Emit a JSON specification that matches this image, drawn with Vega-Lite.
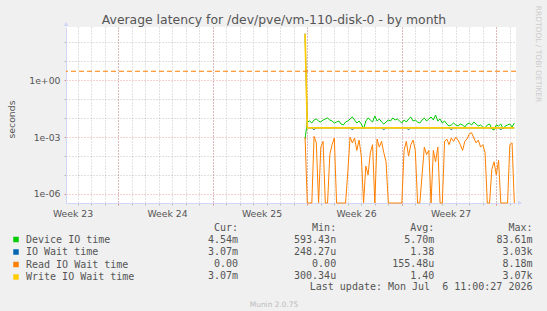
{
  "$schema": "https://vega.github.io/schema/vega-lite/v6.json",
  "width": 450,
  "height": 176,
  "autosize": {"type": "none"},
  "padding": {"left": 66, "top": 27, "right": 31, "bottom": 108},
  "background": "#F0F0F0",
  "config": {
    "view": {"fill": "#FFFFFF", "stroke": null},
    "font": "DejaVu Sans",
    "axis": {"labelFont": "DejaVu Sans", "labelFontSize": 9.3, "labelColor": "#555555", "titleFont": "DejaVu Sans", "titleFontWeight": "normal", "titleColor": "#555555", "titleFontSize": 9.3}
  },
  "layer": [
    {
      "data": {"values": [
        {"t": "2026-06-21T20:00", "Device IO time": 0.0008, "IO Wait time": 288, "Read IO Wait time": 0.001, "Write IO Wait time": 288},
        {"t": "2026-06-22T00:00", "Device IO time": 0.0063, "IO Wait time": 0.00307, "Read IO Wait time": 0, "Write IO Wait time": 0.00307},
        {"t": "2026-06-22T04:00", "Device IO time": 0.00712, "IO Wait time": 0.00307, "Read IO Wait time": 0, "Write IO Wait time": 0.00307},
        {"t": "2026-06-22T08:00", "Device IO time": 0.00558, "IO Wait time": 0.00307, "Read IO Wait time": 0, "Write IO Wait time": 0.00307},
        {"t": "2026-06-22T12:00", "Device IO time": 0.00804, "IO Wait time": 0.0025, "Read IO Wait time": 0.0011, "Write IO Wait time": 0.00307},
        {"t": "2026-06-22T16:00", "Device IO time": 0.00907, "IO Wait time": 0.00307, "Read IO Wait time": 0.0005, "Write IO Wait time": 0.00307},
        {"t": "2026-06-22T20:00", "Device IO time": 0.00712, "IO Wait time": 0.00307, "Read IO Wait time": 0, "Write IO Wait time": 0.00307},
        {"t": "2026-06-23T00:00", "Device IO time": 0.0063, "IO Wait time": 0.00307, "Read IO Wait time": 0.0003, "Write IO Wait time": 0.00307},
        {"t": "2026-06-23T04:00", "Device IO time": 0.00804, "IO Wait time": 0.00307, "Read IO Wait time": 0.0006, "Write IO Wait time": 0.00307},
        {"t": "2026-06-23T08:00", "Device IO time": 0.00907, "IO Wait time": 0.00307, "Read IO Wait time": 0, "Write IO Wait time": 0.00307},
        {"t": "2026-06-23T12:00", "Device IO time": 0.01025, "IO Wait time": 0.00307, "Read IO Wait time": 0, "Write IO Wait time": 0.00307},
        {"t": "2026-06-23T16:00", "Device IO time": 0.00804, "IO Wait time": 0.00307, "Read IO Wait time": 0.00012, "Write IO Wait time": 0.00307},
        {"t": "2026-06-23T20:00", "Device IO time": 0.00712, "IO Wait time": 0.00307, "Read IO Wait time": 0.0004, "Write IO Wait time": 0.00307},
        {"t": "2026-06-24T00:00", "Device IO time": 0.00558, "IO Wait time": 0.00307, "Read IO Wait time": 0.0009, "Write IO Wait time": 0.00307},
        {"t": "2026-06-24T04:00", "Device IO time": 0.0063, "IO Wait time": 0.00307, "Read IO Wait time": 0, "Write IO Wait time": 0.00307},
        {"t": "2026-06-24T08:00", "Device IO time": 0.00712, "IO Wait time": 0.00307, "Read IO Wait time": 0, "Write IO Wait time": 0.00307},
        {"t": "2026-06-24T12:00", "Device IO time": 0.00494, "IO Wait time": 0.00307, "Read IO Wait time": 0, "Write IO Wait time": 0.00307},
        {"t": "2026-06-24T16:00", "Device IO time": 0.00438, "IO Wait time": 0.00307, "Read IO Wait time": 0, "Write IO Wait time": 0.00307},
        {"t": "2026-06-24T20:00", "Device IO time": 0.0063, "IO Wait time": 0.00307, "Read IO Wait time": 0, "Write IO Wait time": 0.00307},
        {"t": "2026-06-25T00:00", "Device IO time": 0.00712, "IO Wait time": 0.00307, "Read IO Wait time": 0.000015, "Write IO Wait time": 0.00307},
        {"t": "2026-06-25T04:00", "Device IO time": 0.00907, "IO Wait time": 0.00307, "Read IO Wait time": 0.001, "Write IO Wait time": 0.00307},
        {"t": "2026-06-25T08:00", "Device IO time": 0.01157, "IO Wait time": 0.0025, "Read IO Wait time": 0.0005, "Write IO Wait time": 0.00307},
        {"t": "2026-06-25T12:00", "Device IO time": 0.00804, "IO Wait time": 0.00307, "Read IO Wait time": 0.0009, "Write IO Wait time": 0.00307},
        {"t": "2026-06-25T16:00", "Device IO time": 0.00558, "IO Wait time": 0.00307, "Read IO Wait time": 0.0002, "Write IO Wait time": 0.00307},
        {"t": "2026-06-25T20:00", "Device IO time": 0.00712, "IO Wait time": 0.00307, "Read IO Wait time": 0.0007, "Write IO Wait time": 0.00307},
        {"t": "2026-06-26T00:00", "Device IO time": 0.00494, "IO Wait time": 0.00307, "Read IO Wait time": 0.0001, "Write IO Wait time": 0.00307},
        {"t": "2026-06-26T04:00", "Device IO time": 0.00269, "IO Wait time": 0.00307, "Read IO Wait time": 0, "Write IO Wait time": 0.00307},
        {"t": "2026-06-26T08:00", "Device IO time": 0.00712, "IO Wait time": 0.00307, "Read IO Wait time": 0.00003, "Write IO Wait time": 0.00307},
        {"t": "2026-06-26T12:00", "Device IO time": 0.01025, "IO Wait time": 0.00307, "Read IO Wait time": 0.00001, "Write IO Wait time": 0.00307},
        {"t": "2026-06-26T16:00", "Device IO time": 0.00804, "IO Wait time": 0.00307, "Read IO Wait time": 0.00015, "Write IO Wait time": 0.00307},
        {"t": "2026-06-26T20:00", "Device IO time": 0.0063, "IO Wait time": 0.00307, "Read IO Wait time": 0.0004, "Write IO Wait time": 0.00307},
        {"t": "2026-06-27T00:00", "Device IO time": 0.01306, "IO Wait time": 0.00307, "Read IO Wait time": 0, "Write IO Wait time": 0.00307},
        {"t": "2026-06-27T04:00", "Device IO time": 0.00712, "IO Wait time": 0.00307, "Read IO Wait time": 0.0008, "Write IO Wait time": 0.00307},
        {"t": "2026-06-27T08:00", "Device IO time": 0.00907, "IO Wait time": 0.00307, "Read IO Wait time": 0.0003, "Write IO Wait time": 0.00307},
        {"t": "2026-06-27T12:00", "Device IO time": 0.0063, "IO Wait time": 0.00307, "Read IO Wait time": 0.0006, "Write IO Wait time": 0.00307},
        {"t": "2026-06-27T16:00", "Device IO time": 0.00494, "IO Wait time": 0.0025, "Read IO Wait time": 0.00015, "Write IO Wait time": 0.00307},
        {"t": "2026-06-27T20:00", "Device IO time": 0.0063, "IO Wait time": 0.00307, "Read IO Wait time": 0.00005, "Write IO Wait time": 0.00307},
        {"t": "2026-06-28T00:00", "Device IO time": 0.00804, "IO Wait time": 0.00307, "Read IO Wait time": 0, "Write IO Wait time": 0.00307},
        {"t": "2026-06-28T04:00", "Device IO time": 0.00712, "IO Wait time": 0.00307, "Read IO Wait time": 0, "Write IO Wait time": 0.00307},
        {"t": "2026-06-28T08:00", "Device IO time": 0.01025, "IO Wait time": 0.00307, "Read IO Wait time": 0, "Write IO Wait time": 0.00307},
        {"t": "2026-06-28T12:00", "Device IO time": 0.00804, "IO Wait time": 0.00307, "Read IO Wait time": 0, "Write IO Wait time": 0.00307},
        {"t": "2026-06-28T16:00", "Device IO time": 0.00907, "IO Wait time": 0.00307, "Read IO Wait time": 0, "Write IO Wait time": 0.00307},
        {"t": "2026-06-28T20:00", "Device IO time": 0.00712, "IO Wait time": 0.00307, "Read IO Wait time": 0, "Write IO Wait time": 0.00307},
        {"t": "2026-06-29T00:00", "Device IO time": 0.00558, "IO Wait time": 0.00307, "Read IO Wait time": 0, "Write IO Wait time": 0.00307},
        {"t": "2026-06-29T04:00", "Device IO time": 0.00804, "IO Wait time": 0.00307, "Read IO Wait time": 0.0002, "Write IO Wait time": 0.00307},
        {"t": "2026-06-29T08:00", "Device IO time": 0.0063, "IO Wait time": 0.00307, "Read IO Wait time": 0.0006, "Write IO Wait time": 0.00307},
        {"t": "2026-06-29T12:00", "Device IO time": 0.00907, "IO Wait time": 0.0025, "Read IO Wait time": 0.0001, "Write IO Wait time": 0.00307},
        {"t": "2026-06-29T16:00", "Device IO time": 0.01157, "IO Wait time": 0.00307, "Read IO Wait time": 0.0004, "Write IO Wait time": 0.00307},
        {"t": "2026-06-29T20:00", "Device IO time": 0.00712, "IO Wait time": 0.00307, "Read IO Wait time": 0.0007, "Write IO Wait time": 0.00307},
        {"t": "2026-06-30T00:00", "Device IO time": 0.00804, "IO Wait time": 0.00307, "Read IO Wait time": 0.0002, "Write IO Wait time": 0.00307},
        {"t": "2026-06-30T04:00", "Device IO time": 0.0063, "IO Wait time": 0.00307, "Read IO Wait time": 0, "Write IO Wait time": 0.00307},
        {"t": "2026-06-30T08:00", "Device IO time": 0.00558, "IO Wait time": 0.00307, "Read IO Wait time": 0, "Write IO Wait time": 0.00307},
        {"t": "2026-06-30T12:00", "Device IO time": 0.00804, "IO Wait time": 0.00307, "Read IO Wait time": 0.00001, "Write IO Wait time": 0.00307},
        {"t": "2026-06-30T16:00", "Device IO time": 0.01025, "IO Wait time": 0.00307, "Read IO Wait time": 0.0003, "Write IO Wait time": 0.00307},
        {"t": "2026-06-30T20:00", "Device IO time": 0.00712, "IO Wait time": 0.00307, "Read IO Wait time": 0.00012, "Write IO Wait time": 0.00307},
        {"t": "2026-07-01T00:00", "Device IO time": 0.00907, "IO Wait time": 0.00307, "Read IO Wait time": 0.0002, "Write IO Wait time": 0.00307},
        {"t": "2026-07-01T04:00", "Device IO time": 0.01157, "IO Wait time": 0.00307, "Read IO Wait time": 0, "Write IO Wait time": 0.00307},
        {"t": "2026-07-01T08:00", "Device IO time": 0.00804, "IO Wait time": 0.00307, "Read IO Wait time": 0.0002, "Write IO Wait time": 0.00307},
        {"t": "2026-07-01T12:00", "Device IO time": 0.01475, "IO Wait time": 0.00307, "Read IO Wait time": 0.00005, "Write IO Wait time": 0.00307},
        {"t": "2026-07-01T16:00", "Device IO time": 0.00712, "IO Wait time": 0.00307, "Read IO Wait time": 0.0003, "Write IO Wait time": 0.00307},
        {"t": "2026-07-01T20:00", "Device IO time": 0.00907, "IO Wait time": 0.00307, "Read IO Wait time": 0, "Write IO Wait time": 0.00307},
        {"t": "2026-07-02T00:00", "Device IO time": 0.00558, "IO Wait time": 0.00307, "Read IO Wait time": 0, "Write IO Wait time": 0.00307},
        {"t": "2026-07-02T04:00", "Device IO time": 0.00712, "IO Wait time": 0.00307, "Read IO Wait time": 0.0006, "Write IO Wait time": 0.00307},
        {"t": "2026-07-02T08:00", "Device IO time": 0.00494, "IO Wait time": 0.00307, "Read IO Wait time": 0.0008, "Write IO Wait time": 0.00307},
        {"t": "2026-07-02T12:00", "Device IO time": 0.00388, "IO Wait time": 0.00307, "Read IO Wait time": 0.0004, "Write IO Wait time": 0.00307},
        {"t": "2026-07-02T16:00", "Device IO time": 0.00438, "IO Wait time": 0.0025, "Read IO Wait time": 0.0009, "Write IO Wait time": 0.00307},
        {"t": "2026-07-02T20:00", "Device IO time": 0.00558, "IO Wait time": 0.00307, "Read IO Wait time": 0.0006, "Write IO Wait time": 0.00307},
        {"t": "2026-07-03T00:00", "Device IO time": 0.00438, "IO Wait time": 0.00307, "Read IO Wait time": 0.001, "Write IO Wait time": 0.00307},
        {"t": "2026-07-03T04:00", "Device IO time": 0.00388, "IO Wait time": 0.00307, "Read IO Wait time": 0.0007, "Write IO Wait time": 0.00307},
        {"t": "2026-07-03T08:00", "Device IO time": 0.00494, "IO Wait time": 0.00307, "Read IO Wait time": 0.0004, "Write IO Wait time": 0.00307},
        {"t": "2026-07-03T12:00", "Device IO time": 0.00438, "IO Wait time": 0.00307, "Read IO Wait time": 0.0002, "Write IO Wait time": 0.00307},
        {"t": "2026-07-03T16:00", "Device IO time": 0.00343, "IO Wait time": 0.00307, "Read IO Wait time": 0.0006, "Write IO Wait time": 0.00307},
        {"t": "2026-07-03T20:00", "Device IO time": 0.00494, "IO Wait time": 0.00307, "Read IO Wait time": 0.0008, "Write IO Wait time": 0.00307},
        {"t": "2026-07-04T00:00", "Device IO time": 0.00558, "IO Wait time": 0.00307, "Read IO Wait time": 0.0015, "Write IO Wait time": 0.00307},
        {"t": "2026-07-04T04:00", "Device IO time": 0.00438, "IO Wait time": 0.00307, "Read IO Wait time": 0.0017, "Write IO Wait time": 0.00307},
        {"t": "2026-07-04T08:00", "Device IO time": 0.0063, "IO Wait time": 0.00307, "Read IO Wait time": 0.0009, "Write IO Wait time": 0.00307},
        {"t": "2026-07-04T12:00", "Device IO time": 0.00494, "IO Wait time": 0.00307, "Read IO Wait time": 0.0005, "Write IO Wait time": 0.00307},
        {"t": "2026-07-04T16:00", "Device IO time": 0.00388, "IO Wait time": 0.00307, "Read IO Wait time": 0.0007, "Write IO Wait time": 0.00307},
        {"t": "2026-07-04T20:00", "Device IO time": 0.00438, "IO Wait time": 0.00307, "Read IO Wait time": 0.0003, "Write IO Wait time": 0.00307},
        {"t": "2026-07-05T00:00", "Device IO time": 0.00343, "IO Wait time": 0.00307, "Read IO Wait time": 0.0004, "Write IO Wait time": 0.00307},
        {"t": "2026-07-05T04:00", "Device IO time": 0.00304, "IO Wait time": 0.00307, "Read IO Wait time": 0.00015, "Write IO Wait time": 0.00307},
        {"t": "2026-07-05T08:00", "Device IO time": 0.00438, "IO Wait time": 0.00307, "Read IO Wait time": 0, "Write IO Wait time": 0.00307},
        {"t": "2026-07-05T12:00", "Device IO time": 0.00494, "IO Wait time": 0.00307, "Read IO Wait time": 0, "Write IO Wait time": 0.00307},
        {"t": "2026-07-05T16:00", "Device IO time": 0.00269, "IO Wait time": 0.00307, "Read IO Wait time": 0.00002, "Write IO Wait time": 0.00307},
        {"t": "2026-07-05T20:00", "Device IO time": 0.00238, "IO Wait time": 0.00307, "Read IO Wait time": 0.00005, "Write IO Wait time": 0.00307},
        {"t": "2026-07-06T00:00", "Device IO time": 0.00438, "IO Wait time": 0.00307, "Read IO Wait time": 0.00001, "Write IO Wait time": 0.00307},
        {"t": "2026-07-06T04:00", "Device IO time": 0.00388, "IO Wait time": 0.00307, "Read IO Wait time": 0.00006, "Write IO Wait time": 0.00307},
        {"t": "2026-07-06T08:00", "Device IO time": 0.00494, "IO Wait time": 0.0025, "Read IO Wait time": 0, "Write IO Wait time": 0.00307},
        {"t": "2026-07-06T12:00", "Device IO time": 0.00269, "IO Wait time": 0.00307, "Read IO Wait time": 0, "Write IO Wait time": 0.00307},
        {"t": "2026-07-06T16:00", "Device IO time": 0.00388, "IO Wait time": 0.00307, "Read IO Wait time": 0, "Write IO Wait time": 0.00307},
        {"t": "2026-07-06T20:00", "Device IO time": 0.00438, "IO Wait time": 0.00307, "Read IO Wait time": 0, "Write IO Wait time": 0.00307},
        {"t": "2026-07-07T00:00", "Device IO time": 0.00494, "IO Wait time": 0.00307, "Read IO Wait time": 0.0004, "Write IO Wait time": 0.00307},
        {"t": "2026-07-07T04:00", "Device IO time": 0.00343, "IO Wait time": 0.00307, "Read IO Wait time": 0.0005, "Write IO Wait time": 0.00307},
        {"t": "2026-07-07T08:00", "Device IO time": 0.00558, "IO Wait time": 0.00307, "Read IO Wait time": 0, "Write IO Wait time": 0.00307}
      ]},
      "transform": [{"fold": ["Device IO time", "IO Wait time", "Read IO Wait time", "Write IO Wait time"], "as": ["series", "value"]}],
      "resolve": {"axis": {"x": "independent", "y": "independent"}},
      "layer": [
        {
          "transform": [{"filter": "datum.series == 'Device IO time'"}],
          "mark": {"type": "line", "strokeWidth": 1, "interpolate": "linear"},
          "encoding": {
            "x": {"field": "t", "type": "temporal", "scale": {"domain": [{"year": 2026, "month": 6, "date": 4, "hours": 3}, {"year": 2026, "month": 7, "date": 7, "hours": 11}], "nice": false},
              "axis": {"orient": "bottom", "tickCount": {"interval": "day", "step": 1}, "grid": true, "gridColor": "#8C8C8C", "gridOpacity": 0.5, "gridDash": [1, 2], "ticks": true, "tickColor": "#BBBBBB", "tickSize": 2, "labels": false, "domain": false, "title": null}},
            "y": {"field": "value", "type": "quantitative", "scale": {"type": "log", "domain": [3.35e-7, 650], "nice": false, "clamp": true},
              "axis": {"orient": "left", "values": [100, 10, 0.1, 0.01, 0.0001, 0.00001], "grid": true, "gridColor": "#8C8C8C", "gridOpacity": 0.5, "gridDash": [1, 2], "ticks": true, "tickColor": "#BBBBBB", "tickSize": 2, "labels": false, "domain": false, "title": null}},
            "color": {"field": "series", "type": "nominal",
              "scale": {"domain": ["Device IO time", "IO Wait time", "Read IO Wait time", "Write IO Wait time"], "range": ["#00CC00", "#0066B3", "#FF8000", "#FFCC00"]},
              "legend": {"title": null, "orient": "none", "legendX": -55, "legendY": 207.5, "symbolType": "square", "symbolSize": 30, "symbolStrokeWidth": 0, "labelFont": "DejaVu Sans Mono", "labelFontSize": 10, "labelColor": "#555555", "labelOffset": 5, "rowPadding": 2.5, "padding": 0,
                "encode": {"symbols": {"update": {"fill": {"scale": "color", "field": "value"}, "stroke": {"value": "transparent"}}}}}}
          }
        },
        {
          "transform": [{"filter": "datum.series == 'IO Wait time'"}],
          "mark": {"type": "line", "strokeWidth": 1},
          "encoding": {
            "x": {"field": "t", "type": "temporal",
              "axis": {"orient": "bottom", "values": [{"year": 2026, "month": 6, "date": 8}, {"year": 2026, "month": 6, "date": 15}, {"year": 2026, "month": 6, "date": 22}, {"year": 2026, "month": 6, "date": 29}, {"year": 2026, "month": 7, "date": 6}], "grid": true, "gridColor": "#D02020", "gridOpacity": 0.4, "gridDash": [1, 2], "ticks": true, "tickColor": "#E09090", "tickSize": 2, "labels": false, "domain": true, "domainColor": "#CFD6F8", "title": null}},
            "y": {"field": "value", "type": "quantitative",
              "axis": {"orient": "left", "values": [1, 0.001, 0.000001], "grid": true, "gridColor": "#D02020", "gridOpacity": 0.4, "gridDash": [1, 2], "ticks": true, "tickColor": "#E09090", "tickSize": 2, "labelPadding": 4, "labelBaseline": "middle",
                "labelExpr": "datum.value > 0.5 ? '1e+00' : (datum.value > 0.0005 ? '1e-03' : '1e-06')",
                "domain": true, "domainColor": "#CFD6F8", "title": "seconds", "titleAngle": 270, "titleX": -55, "titleY": 92, "titleAlign": "center", "titleBaseline": "middle"}},
            "color": {"field": "series", "type": "nominal", "legend": null}
          }
        },
        {
          "transform": [{"filter": "datum.series == 'Read IO Wait time'"}],
          "mark": {"type": "line", "strokeWidth": 1, "invalid": "show"},
          "encoding": {
            "x": {"field": "t", "type": "temporal",
              "axis": {"orient": "bottom", "values": [{"year": 2026, "month": 6, "date": 4, "hours": 12}, {"year": 2026, "month": 6, "date": 11, "hours": 12}, {"year": 2026, "month": 6, "date": 18, "hours": 12}, {"year": 2026, "month": 6, "date": 25, "hours": 12}, {"year": 2026, "month": 7, "date": 2, "hours": 12}], "format": "Week %V", "grid": false, "ticks": false, "tickSize": 0, "domain": false, "labelPadding": 13, "labelBaseline": "alphabetic", "labelFlush": false, "labelOverlap": false, "labelOffset": 1.5, "title": null}},
            "y": {"field": "value", "type": "quantitative", "axis": null},
            "color": {"field": "series", "type": "nominal", "legend": null}
          }
        },
        {
          "transform": [{"filter": "datum.series == 'Write IO Wait time'"}],
          "mark": {"type": "line", "strokeWidth": 1.7},
          "encoding": {
            "x": {"field": "t", "type": "temporal",
              "axis": {"orient": "top", "labels": false, "ticks": false, "domain": false, "grid": false, "title": "Average latency for /dev/pve/vm-110-disk-0 - by month", "titleFont": "DejaVu Sans", "titleFontSize": 12.4, "titleFontWeight": "normal", "titleColor": "#555555", "titleX": 207.5, "titleY": -3.5, "titleAlign": "center", "titleBaseline": "alphabetic", "titleAngle": 0}},
            "y": {"field": "value", "type": "quantitative", "axis": null},
            "color": {"field": "series", "type": "nominal", "legend": null}
          }
        },
        {
          "data": {"values": [{"level": 3}]},
          "mark": {"type": "rule", "color": "#FF8000", "strokeWidth": 1.2, "strokeDash": [5, 3]},
          "encoding": {"y": {"field": "level", "type": "quantitative", "axis": null}}
        },
        {
          "data": {"values": [{"edge": "top"}]},
          "mark": {"type": "point", "shape": "triangle-up", "filled": true, "size": 22, "color": "#CFD6F8", "yOffset": -3, "opacity": 1},
          "encoding": {
            "x": {"datum": {"year": 2026, "month": 6, "date": 4, "hours": 3}, "type": "temporal", "axis": null},
            "y": {"datum": 650, "type": "quantitative", "axis": null}
          }
        },
        {
          "data": {"values": [{"edge": "right"}]},
          "mark": {"type": "point", "shape": "triangle-right", "filled": true, "size": 22, "color": "#CFD6F8", "xOffset": 4, "opacity": 1},
          "encoding": {
            "x": {"datum": {"year": 2026, "month": 7, "date": 7, "hours": 11}, "type": "temporal", "axis": null},
            "y": {"datum": 3.35e-7, "type": "quantitative", "axis": null}
          }
        }
      ]
    },
    {
      "data": {"values": [
        {"row": "hdr", "col": "Cur", "txt": "Cur:\u00a0\u00a0"},
        {"row": "hdr", "col": "Min", "txt": "Min:\u00a0\u00a0"},
        {"row": "hdr", "col": "Avg", "txt": "Avg:\u00a0\u00a0"},
        {"row": "hdr", "col": "Max", "txt": "Max:\u00a0\u00a0"},
        {"row": "Device IO time", "col": "Cur", "txt": "4.54m"},
        {"row": "Device IO time", "col": "Min", "txt": "593.43n"},
        {"row": "Device IO time", "col": "Avg", "txt": "5.70m"},
        {"row": "Device IO time", "col": "Max", "txt": "83.61m"},
        {"row": "IO Wait time", "col": "Cur", "txt": "3.07m"},
        {"row": "IO Wait time", "col": "Min", "txt": "248.27u"},
        {"row": "IO Wait time", "col": "Avg", "txt": "1.38\u00a0"},
        {"row": "IO Wait time", "col": "Max", "txt": "3.03k"},
        {"row": "Read IO Wait time", "col": "Cur", "txt": "0.00\u00a0"},
        {"row": "Read IO Wait time", "col": "Min", "txt": "0.00\u00a0"},
        {"row": "Read IO Wait time", "col": "Avg", "txt": "155.48u"},
        {"row": "Read IO Wait time", "col": "Max", "txt": "8.18m"},
        {"row": "Write IO Wait time", "col": "Cur", "txt": "3.07m"},
        {"row": "Write IO Wait time", "col": "Min", "txt": "300.34u"},
        {"row": "Write IO Wait time", "col": "Avg", "txt": "1.40\u00a0"},
        {"row": "Write IO Wait time", "col": "Max", "txt": "3.07k"},
        {"row": "upd", "col": "Max", "txt": "Last update: Mon Jul\u00a0\u00a06 11:00:27 2026"}
      ]},
      "mark": {"type": "text", "align": "right", "baseline": "middle", "font": "DejaVu Sans Mono", "fontSize": 10, "color": "#555555"},
      "encoding": {
        "x": {"field": "col", "type": "nominal", "scale": {"type": "point", "domain": ["Cur", "Min", "Avg", "Max"], "range": [172, 466.5], "padding": 0},
          "axis": {"orient": "bottom", "labels": false, "ticks": false, "domain": false, "grid": false, "title": "Munin 2.0.75", "titleFont": "DejaVu Sans", "titleFontSize": 7.4, "titleColor": "#BBBBBB", "titleX": 207.5, "titleY": 101.7, "titleAlign": "center", "titleBaseline": "middle"}},
        "y": {"field": "row", "type": "nominal", "scale": {"type": "point", "domain": ["hdr", "Device IO time", "IO Wait time", "Read IO Wait time", "Write IO Wait time", "upd"], "range": [201, 260.4], "padding": 0},
          "axis": {"orient": "right", "labels": false, "ticks": false, "domain": false, "grid": false, "title": "RRDTOOL / TOBI OETIKER", "titleFont": "DejaVu Sans", "titleFontSize": 7.5, "titleColor": "#CCCCCC", "titleAngle": 90, "titleX": 21, "titleY": 26.5, "titleAlign": "center", "titleBaseline": "middle"}},
        "text": {"field": "txt", "type": "nominal"}
      }
    }
  ],
  "resolve": {"scale": {"x": "independent", "y": "independent"}, "axis": {"x": "independent", "y": "independent"}}
}
